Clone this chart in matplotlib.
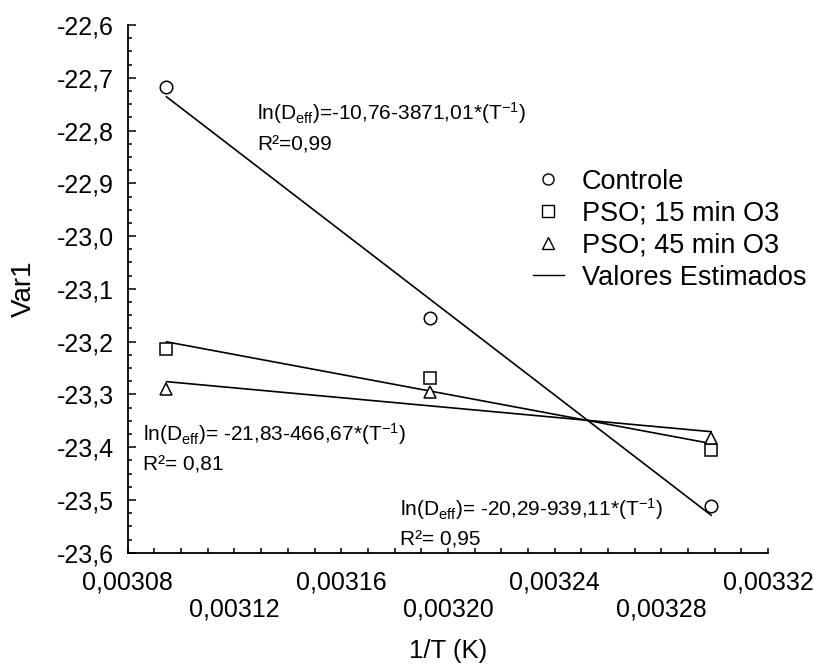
import numpy as np
import matplotlib
matplotlib.use("Agg")
import matplotlib.pyplot as plt
from matplotlib.lines import Line2D
from matplotlib.ticker import FuncFormatter, MultipleLocator

plt.rcParams['font.family'] = ['Liberation Sans', 'DejaVu Sans']
plt.rcParams['mathtext.fontset'] = 'custom'
plt.rcParams['mathtext.rm'] = 'Liberation Sans'
plt.rcParams['mathtext.it'] = 'Liberation Sans'

# 1/T for the three drying temperatures
inv_T = [0.0030945, 0.0031934, 0.0032987]
controle = [-22.718, -23.155, -23.512]
pso_15 = [-23.213, -23.269, -23.405]
pso_45 = [-23.289, -23.296, -23.383]

series_names = ['Controle', 'PSO; 15 min O3', 'PSO; 45 min O3']
markers = ['o', 's', '^']

eq_text = [
    (r'ln(D$_{\mathrm{eff}}$)=-10,76-3871,01*(T$^{\mathrm{-1}}$)', 'R²=0,99'),
    (r'ln(D$_{\mathrm{eff}}$)= -21,83-466,67*(T$^{\mathrm{-1}}$)', 'R²= 0,81'),
    (r'ln(D$_{\mathrm{eff}}$)= -20,29-939,11*(T$^{\mathrm{-1}}$)', 'R²= 0,95'),
]
eq_pos = [(0.0031284, -22.780, -22.837),
          (0.0030856, -23.3875, -23.444),
          (0.003182, -23.530, -23.587)]

fig = plt.figure(figsize=(8.14, 6.66), dpi=100)
ax = fig.add_axes([0.157, 0.170, 0.7865, 0.7925])

x = np.array(inv_T)
for ys, m in zip([controle, pso_15, pso_45], markers):
    ax.plot(x, ys, linestyle='none', marker=m, ms=9, mfc='white', mec='black', mew=1.1, zorder=3)
    k, b = np.polyfit(x, ys, 1)
    ax.plot(x[[0, -1]], k * x[[0, -1]] + b, color='black', lw=1.2, zorder=2)

for (l1, l2), (tx, y1, y2) in zip(eq_text, eq_pos):
    ax.text(tx, y1, l1, fontsize=15, va='baseline', ha='left')
    ax.text(tx, y2, l2, fontsize=15, va='baseline', ha='left')

ax.set_xlim(0.00308, 0.00332)
ax.set_ylim(-23.6, -22.6)
ax.spines['top'].set_visible(False)
ax.spines['right'].set_visible(False)
for s in ['left', 'bottom']:
    ax.spines[s].set_linewidth(1.3)

xt = np.arange(0.00308, 0.003321, 0.00004)
ax.set_xticks(xt)
ax.set_xticklabels([('%.5f' % v).replace('.', ',') for v in xt])
ax.xaxis.set_minor_locator(MultipleLocator(0.00001))
ax.yaxis.set_major_locator(MultipleLocator(0.1))
ax.yaxis.set_minor_locator(MultipleLocator(0.025))
ax.yaxis.set_major_formatter(FuncFormatter(lambda v, p: ('%.1f' % v).replace('.', ',')))

ax.tick_params(axis='x', which='both', direction='in', length=3.6, width=1.1, labelsize=18)
ax.tick_params(axis='y', which='major', direction='in', length=5.5, width=1.1, labelsize=18, pad=10)
ax.tick_params(axis='y', which='minor', direction='in', length=3, width=1.1)
for i, t in enumerate(ax.xaxis.get_major_ticks()):
    t.set_pad(13 if i % 2 == 0 else 32)

ax.set_xlabel('1/T (K)', fontsize=18.5, labelpad=13)
ax.set_ylabel('Var1', fontsize=20, labelpad=14)

handles = [Line2D([], [], linestyle='none', marker=m, ms=8, mfc='white', mec='black', mew=1.0)
           for m in markers]
handles.append(Line2D([], [], color='black', lw=1.0))
fig.legend(handles, series_names + ['Valores Estimados'], loc='upper left',
           bbox_to_anchor=(0.638, 0.767), frameon=False, fontsize=19.5,
           handlelength=1.15, handletextpad=0.65, labelspacing=0.22, borderpad=0)

fig.savefig('out.png', dpi=100)
